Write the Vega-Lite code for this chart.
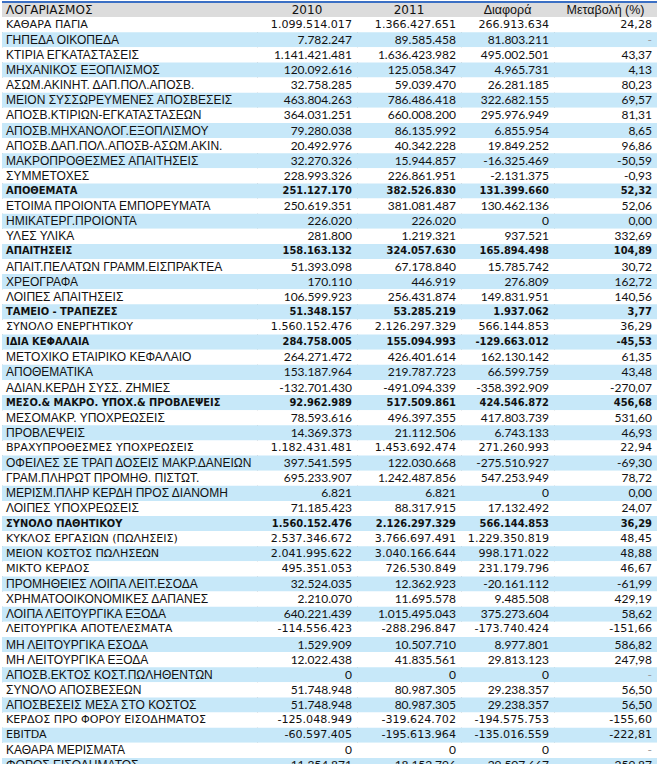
{
  "$schema": "https://vega.github.io/schema/vega-lite/v6.json",
  "padding": 0,
  "background": "#ffffff",
  "spacing": 0,
  "bounds": "flush",
  "datasets": {
    "rows": [
      {"a": "ΚΑΘΑΡΑ ΠΑΓΙΑ", "t": "m", "v2010": 1099514017, "v2011": 1366427651, "diff": 266913634, "pct": 24.28},
      {"a": "ΓΗΠΕΔΑ ΟΙΚΟΠΕΔΑ", "t": "i", "v2010": 7782247, "v2011": 89585458, "diff": 81803211, "pct": null},
      {"a": "ΚΤΙΡΙΑ ΕΓΚΑΤΑΣΤΑΣΕΙΣ", "t": "i", "v2010": 1141421481, "v2011": 1636423982, "diff": 495002501, "pct": 43.37},
      {"a": "ΜΗΧΑΝΙΚΟΣ ΕΞΟΠΛΙΣΜΟΣ", "t": "i", "v2010": 120092616, "v2011": 125058347, "diff": 4965731, "pct": 4.13},
      {"a": "ΑΣΩΜ.ΑΚΙΝΗΤ. ΔΑΠ.ΠΟΛ.ΑΠΟΣΒ.", "t": "i", "v2010": 32758285, "v2011": 59039470, "diff": 26281185, "pct": 80.23},
      {"a": "ΜΕΙΟΝ ΣΥΣΣΩΡΕΥΜΕΝΕΣ ΑΠΟΣΒΕΣΕΙΣ", "t": "i", "v2010": 463804263, "v2011": 786486418, "diff": 322682155, "pct": 69.57},
      {"a": "ΑΠΟΣΒ.ΚΤΙΡΙΩΝ-ΕΓΚΑΤΑΣΤΑΣΕΩΝ", "t": "i", "v2010": 364031251, "v2011": 660008200, "diff": 295976949, "pct": 81.31},
      {"a": "ΑΠΟΣΒ.ΜΗΧΑΝΟΛΟΓ.ΕΞΟΠΛΙΣΜΟΥ", "t": "i", "v2010": 79280038, "v2011": 86135992, "diff": 6855954, "pct": 8.65},
      {"a": "ΑΠΟΣΒ.ΔΑΠ.ΠΟΛ.ΑΠΟΣΒ-ΑΣΩΜ.ΑΚΙΝ.", "t": "i", "v2010": 20492976, "v2011": 40342228, "diff": 19849252, "pct": 96.86},
      {"a": "ΜΑΚΡΟΠΡΟΘΕΣΜΕΣ ΑΠΑΙΤΗΣΕΙΣ", "t": "i", "v2010": 32270326, "v2011": 15944857, "diff": -16325469, "pct": -50.59},
      {"a": "ΣΥΜΜΕΤΟΧΕΣ", "t": "i", "v2010": 228993326, "v2011": 226861951, "diff": -2131375, "pct": -0.93},
      {"a": "ΑΠΟΘΕΜΑΤΑ", "t": "b", "v2010": 251127170, "v2011": 382526830, "diff": 131399660, "pct": 52.32},
      {"a": "ΕΤΟΙΜΑ ΠΡΟΙΟΝΤΑ ΕΜΠΟΡΕΥΜΑΤΑ", "t": "i", "v2010": 250619351, "v2011": 381081487, "diff": 130462136, "pct": 52.06},
      {"a": "ΗΜΙΚΑΤΕΡΓ.ΠΡΟΙΟΝΤΑ", "t": "i", "v2010": 226020, "v2011": 226020, "diff": 0, "pct": 0},
      {"a": "ΥΛΕΣ ΥΛΙΚΑ", "t": "i", "v2010": 281800, "v2011": 1219321, "diff": 937521, "pct": 332.69},
      {"a": "ΑΠΑΙΤΗΣΕΙΣ", "t": "b", "v2010": 158163132, "v2011": 324057630, "diff": 165894498, "pct": 104.89},
      {"a": "ΑΠΑΙΤ.ΠΕΛΑΤΩΝ ΓΡΑΜΜ.ΕΙΣΠΡΑΚΤΕΑ", "t": "i", "v2010": 51393098, "v2011": 67178840, "diff": 15785742, "pct": 30.72},
      {"a": "ΧΡΕΟΓΡΑΦΑ", "t": "i", "v2010": 170110, "v2011": 446919, "diff": 276809, "pct": 162.72},
      {"a": "ΛΟΙΠΕΣ ΑΠΑΙΤΗΣΕΙΣ", "t": "i", "v2010": 106599923, "v2011": 256431874, "diff": 149831951, "pct": 140.56},
      {"a": "ΤΑΜΕΙΟ - ΤΡΑΠΕΖΕΣ", "t": "b", "v2010": 51348157, "v2011": 53285219, "diff": 1937062, "pct": 3.77},
      {"a": "ΣΥΝΟΛΟ ΕΝΕΡΓΗΤΙΚΟΥ", "t": "m", "v2010": 1560152476, "v2011": 2126297329, "diff": 566144853, "pct": 36.29},
      {"a": "ΙΔΙΑ ΚΕΦΑΛΑΙΑ", "t": "b", "v2010": 284758005, "v2011": 155094993, "diff": -129663012, "pct": -45.53},
      {"a": "ΜΕΤΟΧΙΚΟ ΕΤΑΙΡΙΚΟ ΚΕΦΑΛΑΙΟ", "t": "i", "v2010": 264271472, "v2011": 426401614, "diff": 162130142, "pct": 61.35},
      {"a": "ΑΠΟΘΕΜΑΤΙΚΑ", "t": "i", "v2010": 153187964, "v2011": 219787723, "diff": 66599759, "pct": 43.48},
      {"a": "ΑΔΙΑΝ.ΚΕΡΔΗ  ΣΥΣΣ. ΖΗΜΙΕΣ", "t": "i", "v2010": -132701430, "v2011": -491094339, "diff": -358392909, "pct": -270.07},
      {"a": "ΜΕΣΟ.& ΜΑΚΡΟ. ΥΠΟΧ.& ΠΡΟΒΛΕΨΕΙΣ", "t": "b", "v2010": 92962989, "v2011": 517509861, "diff": 424546872, "pct": 456.68},
      {"a": "ΜΕΣΟΜΑΚΡ. ΥΠΟΧΡΕΩΣΕΙΣ", "t": "i", "v2010": 78593616, "v2011": 496397355, "diff": 417803739, "pct": 531.6},
      {"a": "ΠΡΟΒΛΕΨΕΙΣ", "t": "i", "v2010": 14369373, "v2011": 21112506, "diff": 6743133, "pct": 46.93},
      {"a": "ΒΡΑΧΥΠΡΟΘΕΣΜΕΣ ΥΠΟΧΡΕΩΣΕΙΣ", "t": "m", "v2010": 1182431481, "v2011": 1453692474, "diff": 271260993, "pct": 22.94},
      {"a": "ΟΦΕΙΛΕΣ ΣΕ ΤΡΑΠ ΔΟΣΕΙΣ ΜΑΚΡ.ΔΑΝΕΙΩΝ", "t": "i", "v2010": 397541595, "v2011": 122030668, "diff": -275510927, "pct": -69.3},
      {"a": "ΓΡΑΜ.ΠΛΗΡΩΤ ΠΡΟΜΗΘ. ΠΙΣΤΩΤ.", "t": "i", "v2010": 695233907, "v2011": 1242487856, "diff": 547253949, "pct": 78.72},
      {"a": "ΜΕΡΙΣΜ.ΠΛΗΡ ΚΕΡΔΗ ΠΡΟΣ ΔΙΑΝΟΜΗ", "t": "i", "v2010": 6821, "v2011": 6821, "diff": 0, "pct": 0},
      {"a": "ΛΟΙΠΕΣ ΥΠΟΧΡΕΩΣΕΙΣ", "t": "i", "v2010": 71185423, "v2011": 88317915, "diff": 17132492, "pct": 24.07},
      {"a": "ΣΥΝΟΛΟ ΠΑΘΗΤΙΚΟΥ", "t": "b", "v2010": 1560152476, "v2011": 2126297329, "diff": 566144853, "pct": 36.29},
      {"a": "ΚΥΚΛΟΣ ΕΡΓΑΣΙΩΝ (ΠΩΛΗΣΕΙΣ)", "t": "m", "v2010": 2537346672, "v2011": 3766697491, "diff": 1229350819, "pct": 48.45},
      {"a": "ΜΕΙΟΝ ΚΟΣΤΟΣ ΠΩΛΗΣΕΩΝ", "t": "m", "v2010": 2041995622, "v2011": 3040166644, "diff": 998171022, "pct": 48.88},
      {"a": "ΜΙΚΤΟ ΚΕΡΔΟΣ", "t": "m", "v2010": 495351053, "v2011": 726530849, "diff": 231179796, "pct": 46.67},
      {"a": "ΠΡΟΜΗΘΕΙΕΣ ΛΟΙΠΑ ΛΕΙΤ.ΕΣΟΔΑ", "t": "i", "v2010": 32524035, "v2011": 12362923, "diff": -20161112, "pct": -61.99},
      {"a": "ΧΡΗΜΑΤΟΟΙΚΟΝΟΜΙΚΕΣ ΔΑΠΑΝΕΣ", "t": "i", "v2010": 2210070, "v2011": 11695578, "diff": 9485508, "pct": 429.19},
      {"a": "ΛΟΙΠΑ ΛΕΙΤΟΥΡΓΙΚΑ ΕΞΟΔΑ", "t": "i", "v2010": 640221439, "v2011": 1015495043, "diff": 375273604, "pct": 58.62},
      {"a": "ΛΕΙΤΟΥΡΓΙΚΑ ΑΠΟΤΕΛΕΣΜΑΤΑ", "t": "m", "v2010": -114556423, "v2011": -288296847, "diff": -173740424, "pct": -151.66},
      {"a": "ΜΗ ΛΕΙΤΟΥΡΓΙΚΑ ΕΣΟΔΑ", "t": "i", "v2010": 1529909, "v2011": 10507710, "diff": 8977801, "pct": 586.82},
      {"a": "ΜΗ ΛΕΙΤΟΥΡΓΙΚΑ ΕΞΟΔΑ", "t": "i", "v2010": 12022438, "v2011": 41835561, "diff": 29813123, "pct": 247.98},
      {"a": "ΑΠΟΣΒ.ΕΚΤΟΣ ΚΟΣΤ.ΠΩΛΗΘΕΝΤΩΝ", "t": "i", "v2010": 0, "v2011": 0, "diff": 0, "pct": null},
      {"a": "ΣΥΝΟΛΟ ΑΠΟΣΒΕΣΕΩΝ", "t": "i", "v2010": 51748948, "v2011": 80987305, "diff": 29238357, "pct": 56.5},
      {"a": "ΑΠΟΣΒΕΣΕΙΣ ΜΕΣΑ ΣΤΟ ΚΟΣΤΟΣ", "t": "i", "v2010": 51748948, "v2011": 80987305, "diff": 29238357, "pct": 56.5},
      {"a": "ΚΕΡΔΟΣ ΠΡΟ ΦΟΡΟΥ ΕΙΣΟΔΗΜΑΤΟΣ", "t": "m", "v2010": -125048949, "v2011": -319624702, "diff": -194575753, "pct": -155.6},
      {"a": "EBITDA", "t": "m", "v2010": -60597405, "v2011": -195613964, "diff": -135016559, "pct": -222.81},
      {"a": "ΚΑΘΑΡΑ ΜΕΡΙΣΜΑΤΑ", "t": "i", "v2010": 0, "v2011": 0, "diff": 0, "pct": null},
      {"a": "ΦΟΡΟΣ ΕΙΣΟΔΗΜΑΤΟΣ", "t": "i", "v2010": 11354871, "v2011": -18152796, "diff": -29507667, "pct": -259.87}
    ]
  },
  "data": {"name": "rows"},
  "config": {
    "locale": {"number": {"decimal": ",", "thousands": ".", "grouping": [3], "currency": ["", " €"], "minus": "-"}},
    "view": {"stroke": "#a8a8a8", "strokeWidth": 1},
    "concat": {"spacing": 0},
    "axis": {"disable": true}
  },
  "hconcat": [
    {
      "width": 255, "height": 771,
      "layer": [
        {"data": {"values": [{"h": "ΛΟΓΑΡΙΑΣΜΟΣ"}]}, "mark": {"type": "rect", "color": "#dcdcdc"},
         "encoding": {"y": {"datum": 0, "type": "ordinal", "axis": null, "scale": {"domain": [0,1,2,3,4,5,6,7,8,9,10,11,12,13,14,15,16,17,18,19,20,21,22,23,24,25,26,27,28,29,30,31,32,33,34,35,36,37,38,39,40,41,42,43,44,45,46,47,48,49,50], "paddingInner": 0, "paddingOuter": 0}}}},
        {"data": {"values": [{"h": "ΛΟΓΑΡΙΑΣΜΟΣ"}]}, "mark": {"type": "text", "align": "left", "baseline": "middle", "dx": 4, "font": "DejaVu Sans", "fontSize": 12, "color": "#111"},
         "encoding": {"x": {"value": 0}, "y": {"datum": 0, "type": "ordinal", "axis": null}, "text": {"field": "h"}}},
        {"transform": [{"window": [{"op": "row_number", "as": "r"}]}],
         "layer": [
           {"mark": {"type": "rect"}, "encoding": {"y": {"field": "r", "type": "ordinal", "axis": null}, "color": {"condition": {"test": "datum.r % 2 === 0", "value": "#c7e8f9"}, "value": "#ffffff"}}},
           {"transform": [{"filter": "datum.t === 'i'"}], "mark": {"type": "text", "align": "left", "baseline": "middle", "dx": 4, "font": "Liberation Sans Narrow, Liberation Sans", "fontSize": 12, "color": "#111"},
            "encoding": {"x": {"value": 0}, "y": {"field": "r", "type": "ordinal", "axis": null}, "text": {"field": "a"}}},
           {"transform": [{"filter": "datum.t === 'm'"}], "mark": {"type": "text", "align": "left", "baseline": "middle", "dx": 4, "font": "DejaVu Sans", "fontSize": 11.1, "color": "#111"},
            "encoding": {"x": {"value": 0}, "y": {"field": "r", "type": "ordinal", "axis": null}, "text": {"field": "a"}}},
           {"transform": [{"filter": "datum.t === 'b'"}], "mark": {"type": "text", "align": "left", "baseline": "middle", "dx": 4, "font": "DejaVu Sans Condensed, DejaVu Sans", "fontSize": 11, "fontWeight": "bold", "color": "#111"},
            "encoding": {"x": {"value": 0}, "y": {"field": "r", "type": "ordinal", "axis": null}, "text": {"field": "a"}}}
         ]},
        {"data": {"values": [{}]}, "mark": {"type": "rule", "color": "#3a6fc4", "strokeWidth": 2}, "encoding": {"y": {"datum": 0, "type": "ordinal", "bandPosition": 0, "axis": null}}}
      ]
    },
    {
      "width": 100, "height": 771,
      "layer": [
        {"data": {"values": [{"h": "2010"}]}, "mark": {"type": "rect", "color": "#dcdcdc"},
         "encoding": {"y": {"datum": 0, "type": "ordinal", "axis": null, "scale": {"domain": [0,1,2,3,4,5,6,7,8,9,10,11,12,13,14,15,16,17,18,19,20,21,22,23,24,25,26,27,28,29,30,31,32,33,34,35,36,37,38,39,40,41,42,43,44,45,46,47,48,49,50], "paddingInner": 0, "paddingOuter": 0}}}},
        {"data": {"values": [{"h": "2010"}]}, "mark": {"type": "text", "align": "center", "baseline": "middle", "font": "DejaVu Sans", "fontSize": 12, "color": "#111"},
         "encoding": {"y": {"datum": 0, "type": "ordinal", "axis": null}, "text": {"field": "h"}}},
        {"transform": [{"window": [{"op": "row_number", "as": "r"}]}],
         "layer": [
           {"mark": {"type": "rect"}, "encoding": {"y": {"field": "r", "type": "ordinal", "axis": null}, "color": {"condition": {"test": "datum.r % 2 === 0", "value": "#c7e8f9"}, "value": "#ffffff"}}},
           {"transform": [{"filter": "datum.t === 'i'"}], "mark": {"type": "text", "align": "right", "baseline": "middle", "dx": -5, "font": "Lato", "fontSize": 12, "color": "#111"},
            "encoding": {"x": {"value": "width"}, "y": {"field": "r", "type": "ordinal", "axis": null}, "text": {"field": "v2010", "type": "quantitative", "format": ",d"}}},
           {"transform": [{"filter": "datum.t === 'm'"}], "mark": {"type": "text", "align": "right", "baseline": "middle", "dx": -5, "font": "DejaVu Sans", "fontSize": 11.1, "color": "#111"},
            "encoding": {"x": {"value": "width"}, "y": {"field": "r", "type": "ordinal", "axis": null}, "text": {"field": "v2010", "type": "quantitative", "format": ",d"}}},
           {"transform": [{"filter": "datum.t === 'b'"}], "mark": {"type": "text", "align": "right", "baseline": "middle", "dx": -5, "font": "DejaVu Sans Condensed, DejaVu Sans", "fontSize": 11, "fontWeight": "bold", "color": "#111"},
            "encoding": {"x": {"value": "width"}, "y": {"field": "r", "type": "ordinal", "axis": null}, "text": {"field": "v2010", "type": "quantitative", "format": ",d"}}}
         ]},
        {"data": {"values": [{}]}, "mark": {"type": "rule", "color": "#3a6fc4", "strokeWidth": 2}, "encoding": {"y": {"datum": 0, "type": "ordinal", "bandPosition": 0, "axis": null}}}
      ]
    },
    {
      "width": 104, "height": 771,
      "layer": [
        {"data": {"values": [{"h": "2011"}]}, "mark": {"type": "rect", "color": "#dcdcdc"},
         "encoding": {"y": {"datum": 0, "type": "ordinal", "axis": null, "scale": {"domain": [0,1,2,3,4,5,6,7,8,9,10,11,12,13,14,15,16,17,18,19,20,21,22,23,24,25,26,27,28,29,30,31,32,33,34,35,36,37,38,39,40,41,42,43,44,45,46,47,48,49,50], "paddingInner": 0, "paddingOuter": 0}}}},
        {"data": {"values": [{"h": "2011"}]}, "mark": {"type": "text", "align": "center", "baseline": "middle", "font": "DejaVu Sans", "fontSize": 12, "color": "#111"},
         "encoding": {"y": {"datum": 0, "type": "ordinal", "axis": null}, "text": {"field": "h"}}},
        {"transform": [{"window": [{"op": "row_number", "as": "r"}]}],
         "layer": [
           {"mark": {"type": "rect"}, "encoding": {"y": {"field": "r", "type": "ordinal", "axis": null}, "color": {"condition": {"test": "datum.r % 2 === 0", "value": "#c7e8f9"}, "value": "#ffffff"}}},
           {"transform": [{"filter": "datum.t === 'i'"}], "mark": {"type": "text", "align": "right", "baseline": "middle", "dx": -5, "font": "Lato", "fontSize": 12, "color": "#111"},
            "encoding": {"x": {"value": "width"}, "y": {"field": "r", "type": "ordinal", "axis": null}, "text": {"field": "v2011", "type": "quantitative", "format": ",d"}}},
           {"transform": [{"filter": "datum.t === 'm'"}], "mark": {"type": "text", "align": "right", "baseline": "middle", "dx": -5, "font": "DejaVu Sans", "fontSize": 11.1, "color": "#111"},
            "encoding": {"x": {"value": "width"}, "y": {"field": "r", "type": "ordinal", "axis": null}, "text": {"field": "v2011", "type": "quantitative", "format": ",d"}}},
           {"transform": [{"filter": "datum.t === 'b'"}], "mark": {"type": "text", "align": "right", "baseline": "middle", "dx": -5, "font": "DejaVu Sans Condensed, DejaVu Sans", "fontSize": 11, "fontWeight": "bold", "color": "#111"},
            "encoding": {"x": {"value": "width"}, "y": {"field": "r", "type": "ordinal", "axis": null}, "text": {"field": "v2011", "type": "quantitative", "format": ",d"}}}
         ]},
        {"data": {"values": [{}]}, "mark": {"type": "rule", "color": "#3a6fc4", "strokeWidth": 2}, "encoding": {"y": {"datum": 0, "type": "ordinal", "bandPosition": 0, "axis": null}}}
      ]
    },
    {
      "width": 93, "height": 771,
      "layer": [
        {"data": {"values": [{"h": "Διαφορά"}]}, "mark": {"type": "rect", "color": "#dcdcdc"},
         "encoding": {"y": {"datum": 0, "type": "ordinal", "axis": null, "scale": {"domain": [0,1,2,3,4,5,6,7,8,9,10,11,12,13,14,15,16,17,18,19,20,21,22,23,24,25,26,27,28,29,30,31,32,33,34,35,36,37,38,39,40,41,42,43,44,45,46,47,48,49,50], "paddingInner": 0, "paddingOuter": 0}}}},
        {"data": {"values": [{"h": "Διαφορά"}]}, "mark": {"type": "text", "align": "center", "baseline": "middle", "font": "Liberation Sans Narrow, Liberation Sans", "fontSize": 12.5, "color": "#111"},
         "encoding": {"y": {"datum": 0, "type": "ordinal", "axis": null}, "text": {"field": "h"}}},
        {"transform": [{"window": [{"op": "row_number", "as": "r"}]}],
         "layer": [
           {"mark": {"type": "rect"}, "encoding": {"y": {"field": "r", "type": "ordinal", "axis": null}, "color": {"condition": {"test": "datum.r % 2 === 0", "value": "#c7e8f9"}, "value": "#ffffff"}}},
           {"transform": [{"filter": "datum.t === 'i'"}], "mark": {"type": "text", "align": "right", "baseline": "middle", "dx": -5, "font": "Lato", "fontSize": 12, "color": "#111"},
            "encoding": {"x": {"value": "width"}, "y": {"field": "r", "type": "ordinal", "axis": null}, "text": {"field": "diff", "type": "quantitative", "format": ",d"}}},
           {"transform": [{"filter": "datum.t === 'm'"}], "mark": {"type": "text", "align": "right", "baseline": "middle", "dx": -5, "font": "DejaVu Sans", "fontSize": 11.1, "color": "#111"},
            "encoding": {"x": {"value": "width"}, "y": {"field": "r", "type": "ordinal", "axis": null}, "text": {"field": "diff", "type": "quantitative", "format": ",d"}}},
           {"transform": [{"filter": "datum.t === 'b'"}], "mark": {"type": "text", "align": "right", "baseline": "middle", "dx": -5, "font": "DejaVu Sans Condensed, DejaVu Sans", "fontSize": 11, "fontWeight": "bold", "color": "#111"},
            "encoding": {"x": {"value": "width"}, "y": {"field": "r", "type": "ordinal", "axis": null}, "text": {"field": "diff", "type": "quantitative", "format": ",d"}}}
         ]},
        {"data": {"values": [{}]}, "mark": {"type": "rule", "color": "#3a6fc4", "strokeWidth": 2}, "encoding": {"y": {"datum": 0, "type": "ordinal", "bandPosition": 0, "axis": null}}}
      ]
    },
    {
      "width": 103, "height": 771,
      "layer": [
        {"data": {"values": [{"h": "Μεταβολή (%)"}]}, "mark": {"type": "rect", "color": "#dcdcdc"},
         "encoding": {"y": {"datum": 0, "type": "ordinal", "axis": null, "scale": {"domain": [0,1,2,3,4,5,6,7,8,9,10,11,12,13,14,15,16,17,18,19,20,21,22,23,24,25,26,27,28,29,30,31,32,33,34,35,36,37,38,39,40,41,42,43,44,45,46,47,48,49,50], "paddingInner": 0, "paddingOuter": 0}}}},
        {"data": {"values": [{"h": "Μεταβολή (%)"}]}, "mark": {"type": "text", "align": "center", "baseline": "middle", "font": "Liberation Sans Narrow, Liberation Sans", "fontSize": 12.5, "color": "#111"},
         "encoding": {"y": {"datum": 0, "type": "ordinal", "axis": null}, "text": {"field": "h"}}},
        {"transform": [{"window": [{"op": "row_number", "as": "r"}]}],
         "layer": [
           {"mark": {"type": "rect"}, "encoding": {"y": {"field": "r", "type": "ordinal", "axis": null}, "color": {"condition": {"test": "datum.r % 2 === 0", "value": "#c7e8f9"}, "value": "#ffffff"}}},
           {"transform": [{"filter": "datum.t === 'i'"}], "mark": {"type": "text", "align": "right", "baseline": "middle", "dx": -5, "font": "Lato", "fontSize": 12},
            "encoding": {"x": {"value": "width"}, "y": {"field": "r", "type": "ordinal", "axis": null},
              "color": {"condition": {"test": "datum.pct === null", "value": "#9a9a9a"}, "value": "#111"},
              "text": {"condition": {"test": "datum.pct === null", "value": "-"}, "field": "pct", "type": "quantitative", "format": ",.2f"}}},
           {"transform": [{"filter": "datum.t === 'm'"}], "mark": {"type": "text", "align": "right", "baseline": "middle", "dx": -5, "font": "DejaVu Sans", "fontSize": 11.1, "color": "#111"},
            "encoding": {"x": {"value": "width"}, "y": {"field": "r", "type": "ordinal", "axis": null}, "text": {"field": "pct", "type": "quantitative", "format": ",.2f"}}},
           {"transform": [{"filter": "datum.t === 'b'"}], "mark": {"type": "text", "align": "right", "baseline": "middle", "dx": -5, "font": "DejaVu Sans Condensed, DejaVu Sans", "fontSize": 11, "fontWeight": "bold", "color": "#111"},
            "encoding": {"x": {"value": "width"}, "y": {"field": "r", "type": "ordinal", "axis": null}, "text": {"field": "pct", "type": "quantitative", "format": ",.2f"}}}
         ]},
        {"data": {"values": [{}]}, "mark": {"type": "rule", "color": "#3a6fc4", "strokeWidth": 2}, "encoding": {"y": {"datum": 0, "type": "ordinal", "bandPosition": 0, "axis": null}}}
      ]
    }
  ]
}
